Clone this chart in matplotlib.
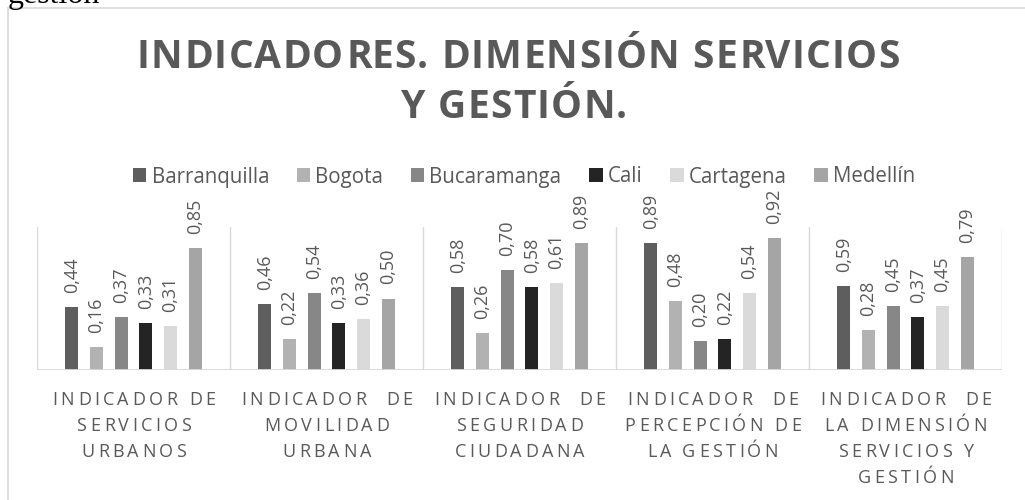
import numpy as np
import matplotlib
matplotlib.use("Agg")
import matplotlib.pyplot as plt
from matplotlib.font_manager import FontProperties, findfont, get_font
from matplotlib.lines import Line2D
from matplotlib.patches import Patch

# datos
ciudades = ["Barranquilla", "Bogota", "Bucaramanga", "Cali", "Cartagena", "Medellín"]
colores = ["#5e5e5e", "#b2b2b2", "#878787", "#242424", "#dadada", "#a5a5a5"]
categorias = [
    ["INDICADOR DE", "SERVICIOS", "URBANOS"],
    ["INDICADOR  DE", "MOVILIDAD", "URBANA"],
    ["INDICADOR  DE", "SEGURIDAD", "CIUDADANA"],
    ["INDICADOR  DE", "PERCEPCIÓN DE", "LA GESTIÓN"],
    ["INDICADOR  DE", "LA DIMENSIÓN", "SERVICIOS Y", "GESTIÓN"],
]
barranquilla = [0.44, 0.46, 0.58, 0.89, 0.59]
bogota = [0.16, 0.22, 0.26, 0.48, 0.28]
bucaramanga = [0.37, 0.54, 0.70, 0.20, 0.45]
cali = [0.33, 0.33, 0.58, 0.22, 0.37]
cartagena = [0.31, 0.36, 0.61, 0.54, 0.45]
medellin = [0.85, 0.50, 0.89, 0.92, 0.79]
valores = [barranquilla, bogota, bucaramanga, cali, cartagena, medellin]
titulo = ["INDICADORES. DIMENSIÓN SERVICIOS", "Y GESTIÓN."]

W, H, DPI = 1025, 500, 100
GRIS = "#595959"

fig = plt.figure(figsize=(W / DPI, H / DPI), dpi=DPI)


def spaced_text(xc, y_base, s, prop, size_px, tracking, color):
    """Dibuja texto con espaciado entre letras, centrado en xc (pixeles, y desde arriba)."""
    font = get_font(findfont(prop))
    font.set_size(size_px * 72 / DPI, DPI)
    glifos = []
    for c in s:
        g = font.load_char(ord(c))
        glifos.append((g.linearHoriAdvance / 65536, g.horiBearingX / 64, g.width / 64))
    total = sum(a for a, _, _ in glifos) + tracking * (len(s) - 1)
    x = xc - total / 2
    for c, (a, b, w) in zip(s, glifos):
        if c != " ":
            fig.text((x + b + w / 2) / W, 1 - y_base / H, c, fontproperties=prop,
                     size=size_px * 72 / DPI, color=color, ha="center", va="baseline")
        x += a + tracking


# texto del documento cortado arriba
fig.text(8 / W, 1 - 3 / H, "gestión", family="Liberation Serif", size=23,
         color="black", ha="left", va="baseline")

# marco del grafico
fig.add_artist(Line2D([8 / W, 1], [1 - 7.5 / H, 1 - 7.5 / H], color="#d9d9d9", lw=1.2))
fig.add_artist(Line2D([8 / W, 8 / W], [0, 1 - 7.5 / H], color="#d9d9d9", lw=1.2))

# titulo
p_tit = FontProperties(family="Open Sans", weight="bold")
spaced_text(518, 68, titulo[0], p_tit, 39, 1.2, GRIS)
spaced_text(514, 118, titulo[1], p_tit, 39, 1.2, GRIS)

ax = fig.add_axes([37 / W, 1 - 370 / H, (1002 - 37) / W, (370 - 227) / H])
n = len(categorias)
x = np.arange(n)
pitch, ancho = 0.128, 0.067
for i, (vals, col) in enumerate(zip(valores, colores)):
    pos = x + (i - 2.5) * pitch
    ax.bar(pos, vals, width=ancho, color=col, zorder=3)
    for px, v in zip(pos, vals):
        ax.annotate(f"{v:.2f}".replace(".", ","), (px, v), xytext=(0, 14),
                    textcoords="offset pixels", rotation=90, ha="center", va="bottom",
                    family="Open Sans", size=13, color=GRIS, annotation_clip=False)

ax.set_xlim(-0.5, n - 0.5)
ax.set_ylim(0, 1.0)
for b in np.arange(n + 1) - 0.5:
    ax.axvline(b, color="#d9d9d9", lw=1, zorder=1)
for s in ax.spines.values():
    s.set_visible(False)
ax.axhline(0, color="#d9d9d9", lw=2, zorder=4)
ax.set_xticks([])
ax.set_yticks([])
ax.patch.set_alpha(0)

# etiquetas de categorias
p_cat = FontProperties(family="Open Sans")
for k, lineas in enumerate(categorias):
    xc = 37 + (k + 0.5) * (1002 - 37) / n
    for j, linea in enumerate(lineas):
        spaced_text(xc, 405 + 26 * j, linea, p_cat, 18, 3.4, GRIS)

# leyenda
handles = [Patch(facecolor=c, edgecolor="none") for c in colores]
fig.legend(handles, ciudades, loc="center", bbox_to_anchor=(524 / W, 1 - 177 / H),
           ncol=6, frameon=False, prop=FontProperties(family="Open Sans", size=14.8),
           labelcolor=GRIS, handlelength=0.65, handleheight=0.65, handletextpad=0.25,
           columnspacing=1.35, borderpad=0)

fig.savefig("out.png", dpi=DPI)
